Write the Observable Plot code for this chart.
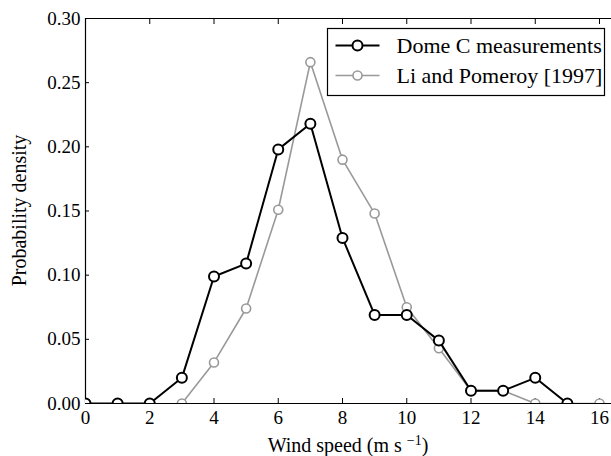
<!DOCTYPE html>
<html>
<head>
<meta charset="utf-8">
<script src="https://cdn.jsdelivr.net/npm/d3@7"></script>
<script src="https://cdn.jsdelivr.net/npm/@observablehq/plot@0.6"></script>
<style>
  html, body { margin: 0; padding: 0; background: #fff; }
  .serif { font-family: "Liberation Serif"; }
</style>
</head>
<body>
<script>
// Wind speed bins (m/s)
const domeSpeed = [0, 1, 2, 3, 4, 5, 6, 7, 8, 9, 10, 11, 12, 13, 14, 15];
const domeDensity = [0, 0, 0, 0.020, 0.099, 0.109, 0.198, 0.218, 0.129, 0.069, 0.069, 0.049, 0.010, 0.010, 0.020, 0];
const liSpeed = [3, 4, 5, 6, 7, 8, 9, 10, 11, 12, 13, 14, 15, 16];
const liDensity = [0, 0.032, 0.074, 0.151, 0.266, 0.190, 0.148, 0.075, 0.043, 0.010, 0.010, 0, 0, 0];
const xTicks = [0, 2, 4, 6, 8, 10, 12, 14, 16];
const yTicks = [0, 0.05, 0.10, 0.15, 0.20, 0.25, 0.30];
const seriesNames = ["Dome C measurements", "Li and Pomeroy [1997]"];
const seriesColors = ["#000000", "#999999"];
const xLabel = "Wind speed (m s";
const xLabelSup = "\u22121";
const yLabel = "Probability density";

const dome = domeSpeed.map((x, i) => ({x, y: domeDensity[i]}));
const li = liSpeed.map((x, i) => ({x, y: liDensity[i]}));

const W = 611, H = 456;
const mL = 85, mR = 0, mT = 18, mB = 53;
const pxPerUnit = (599 - 85) / 16;
const xMax = (W - mL - mR) / pxPerUnit;

const font = "Liberation Serif";

const chart = Plot.plot({
  width: W,
  height: H,
  marginLeft: mL,
  marginRight: mR,
  marginTop: mT,
  marginBottom: mB,
  style: {fontFamily: font, fontSize: "19px"},
  x: {domain: [0, xMax]},
  y: {domain: [0, 0.3]},
  marks: [
    // spines
    Plot.ruleX([0], {stroke: "#000", strokeWidth: 1.2}),
    Plot.ruleY([0, 0.3], {stroke: "#000", strokeWidth: 1.2}),
    // inward ticks
    Plot.axisX({anchor: "bottom", ticks: xTicks, tickSize: -5, tickFormat: () => "", label: null}),
    Plot.axisX({anchor: "top", ticks: xTicks.filter(d => d > 0), tickSize: -5, tickFormat: () => "", label: null}),
    Plot.axisY({anchor: "left", ticks: yTicks, tickSize: -4, tickFormat: () => "", label: null}),
    // tick labels
    Plot.axisX({anchor: "bottom", ticks: xTicks, tickSize: 0, tickPadding: 7, fontSize: 19, tickFormat: d => String(d), label: null}),
    Plot.axisY({anchor: "left", ticks: yTicks, tickSize: 0, tickPadding: 5, fontSize: 19, tickFormat: d => d.toFixed(2), label: null}),
    // Li and Pomeroy series
    Plot.line(li, {x: "x", y: "y", stroke: seriesColors[1], strokeWidth: 1.6, clip: true}),
    Plot.dot(li, {x: "x", y: "y", r: 4.5, stroke: seriesColors[1], strokeWidth: 1.6, fill: "#fff", clip: true}),
    // Dome C series
    Plot.line(dome, {x: "x", y: "y", stroke: seriesColors[0], strokeWidth: 2, clip: true}),
    Plot.dot(dome, {x: "x", y: "y", r: 5, stroke: seriesColors[0], strokeWidth: 2, fill: "#fff", clip: true})
  ]
});

const svg = d3.select(chart).attr("font-family", font).classed("serif", true);
svg.selectAll("text").attr("font-family", font).classed("serif", true);

// Axis labels
svg.append("text")
  .attr("class", "serif")
  .attr("x", (mL + W - mR) / 2)
  .attr("y", 452)
  .attr("text-anchor", "middle")
  .attr("font-family", font)
  .attr("font-size", 20)
  .attr("fill", "#000")
  .call(t => {
    t.append("tspan").text(xLabel + " ");
    t.append("tspan").attr("dy", -7).attr("font-size", 14).text(xLabelSup);
    t.append("tspan").attr("dy", 7).text(")");
  });

svg.append("text")
  .attr("class", "serif")
  .attr("transform", `translate(26, ${(mT + H - mB) / 2}) rotate(-90)`)
  .attr("text-anchor", "middle")
  .attr("font-family", font)
  .attr("font-size", 20)
  .attr("fill", "#000")
  .text(yLabel);

// Legend
const lg = svg.append("g").attr("transform", "translate(327.5, 28.5)");
lg.append("rect").attr("width", 277).attr("height", 67)
  .attr("fill", "#fff").attr("stroke", "#000").attr("stroke-width", 1.2);
seriesNames.forEach((name, i) => {
  const cy = 17 + i * 30;
  const sw = i === 0 ? 2 : 1.6;
  lg.append("line").attr("x1", 8).attr("x2", 52).attr("y1", cy).attr("y2", cy)
    .attr("stroke", seriesColors[i]).attr("stroke-width", sw);
  lg.append("circle").attr("cx", 30).attr("cy", cy).attr("r", i === 0 ? 5 : 4.5)
    .attr("fill", "#fff").attr("stroke", seriesColors[i]).attr("stroke-width", sw);
  lg.append("text").attr("class", "serif").attr("x", 69).attr("y", cy).attr("dy", "0.35em")
    .attr("text-anchor", "start")
    .attr("font-family", font)
    .attr("font-size", 22).attr("fill", "#000")
    .text(name);
});

document.body.appendChild(chart);
</script>
</body>
</html>
